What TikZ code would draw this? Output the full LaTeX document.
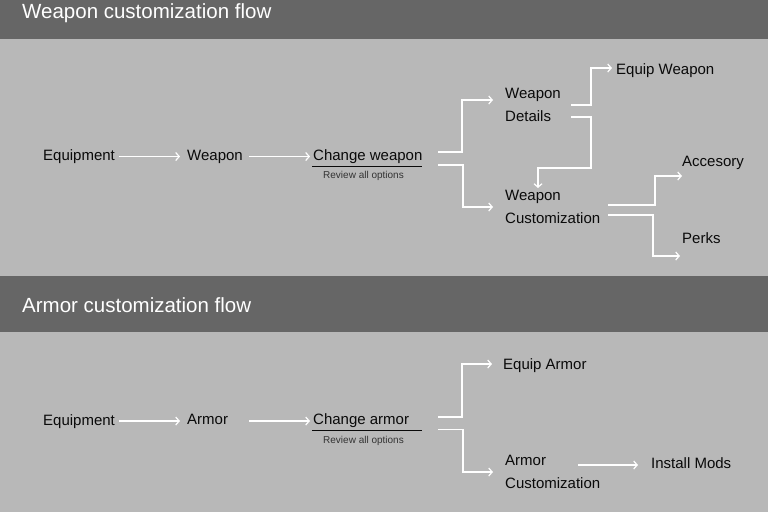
\documentclass[tikz,border=0pt]{standalone}
\usepackage{fontspec}
\setmainfont{Liberation Sans}
\usetikzlibrary{arrows.meta,calc}
\definecolor{bglight}{HTML}{B8B8B8}
\definecolor{bgdark}{HTML}{666666}
\definecolor{txt}{HTML}{0A0A0A}
\definecolor{subtxt}{HTML}{333333}
\tikzset{
  lbl/.style={anchor=base west, inner sep=0pt, text=txt, font=\fontsize{15}{23}\selectfont, align=left},
  sub/.style={anchor=base west, inner sep=0pt, text=subtxt, font=\fontsize{10}{12}\selectfont},
  ttl/.style={anchor=base west, inner sep=0pt, text=white, font=\fontsize{20.5}{24}\selectfont},
  flow/.style={draw=white, line width=1.2pt, -{Straight Barb[length=3.5pt,width=8pt]}},
  uline/.style={draw=txt, line width=1pt},
}
\begin{document}
\begin{tikzpicture}[x=1pt,y=-1pt]
\useasboundingbox (0,0) rectangle (768,512);
\fill[bglight] (0,0) rectangle (768,512);
\fill[bgdark] (0,0) rectangle (768,39);
\fill[bgdark] (0,276) rectangle (768,332);

% ---------- Weapon ----------
\node[ttl] (t1) at (22,18) {Weapon customization flow};
\node[lbl] (n1) at (43,160.5) {Equipment};
\node[lbl] (n2) at (187,160.5) {Weapon};
\node[lbl] (cw) at (313,160.5) {Change weapon};
\node[sub] (rv1) at (323,178) {Review all options};
\node[lbl] (wd) at (505,121) {Weapon\\Details};
\node[lbl] (wc) at (505,223.5) {Weapon\\Customization};
\node[lbl] (ew) at (616,74.5) {Equip Weapon};
\node[lbl] (acc) at (682,166) {Accesory};
\node[lbl] (pk) at (682,243) {Perks};

\draw[flow] ([shift={(4,-4)}]n1.base east) -- ([shift={(-7,-4)}]n2.base west);
\draw[flow] ([shift={(6,-4)}]n2.base east) -- ([shift={(-3,-4)}]cw.base west);
\draw[uline] ([shift={(-1,6)}]cw.base west) -- ++(110,0);
\draw[flow] ([shift={(125,-8.5)}]cw.base west) -- ++(24,0) |- ([shift={(-12,-21)}]wd.base west);
\draw[flow] ([shift={(125,4.5)}]cw.base west) -- ++(25,0) |- ([shift={(-12,-16.5)}]wc.base west);
\draw[flow] ([shift={(66,-16)}]wd.base west) -- ++(20,0) |- ([shift={(-4,-6.5)}]ew.base west);
\draw[flow] ([shift={(66,-4)}]wd.base west) -- ++(20,0) -- ++(0,51) -| ([shift={(33,-35.5)}]wc.base west);
\draw[flow] ([shift={(103,-18.5)}]wc.base west) -- ++(47,0) |- ([shift={(0,10)}]acc.base west);
\draw[flow] ([shift={(103,-8.5)}]wc.base west) -- ++(45,0) |- ([shift={(-2,13)}]pk.base west);

% ---------- Armor ----------
\node[ttl] (t2) at (22,312) {Armor customization flow};
\node[lbl] (a1) at (43,425) {Equipment};
\node[lbl] (a2) at (187,424.5) {Armor};
\node[lbl] (ca) at (313,424) {Change armor};
\node[sub] (rv2) at (323,443) {Review all options};
\node[lbl] (ea) at (503,369) {Equip Armor};
\node[lbl] (ac) at (505,488) {Armor\\Customization};
\node[lbl] (im) at (651,468) {Install Mods};

\draw[flow] ([shift={(4,-4)}]a1.base east) -- ([shift={(-7,-4)}]a1.base east -| a2.base west);
\draw[flow] ([shift={(21,-4)}]a2.base east |- a1.base east) -- ([shift={(-3,-4)}]a1.base east -| ca.base west);
\draw[uline] ([shift={(-1,6.5)}]ca.base west) -- ++(110,0);
\draw[flow] ([shift={(125,-7)}]ca.base west) -- ++(24,0) |- ([shift={(-11,-5)}]ea.base west);
\draw[flow] ([shift={(125,5.5)}]ca.base west) -- ++(25,0) |- ([shift={(-12,-16)}]ac.base west);
\draw[flow] ([shift={(73,-23)}]ac.base west) -- ([shift={(-13,-3)}]im.base west);
\end{tikzpicture}
\end{document}
